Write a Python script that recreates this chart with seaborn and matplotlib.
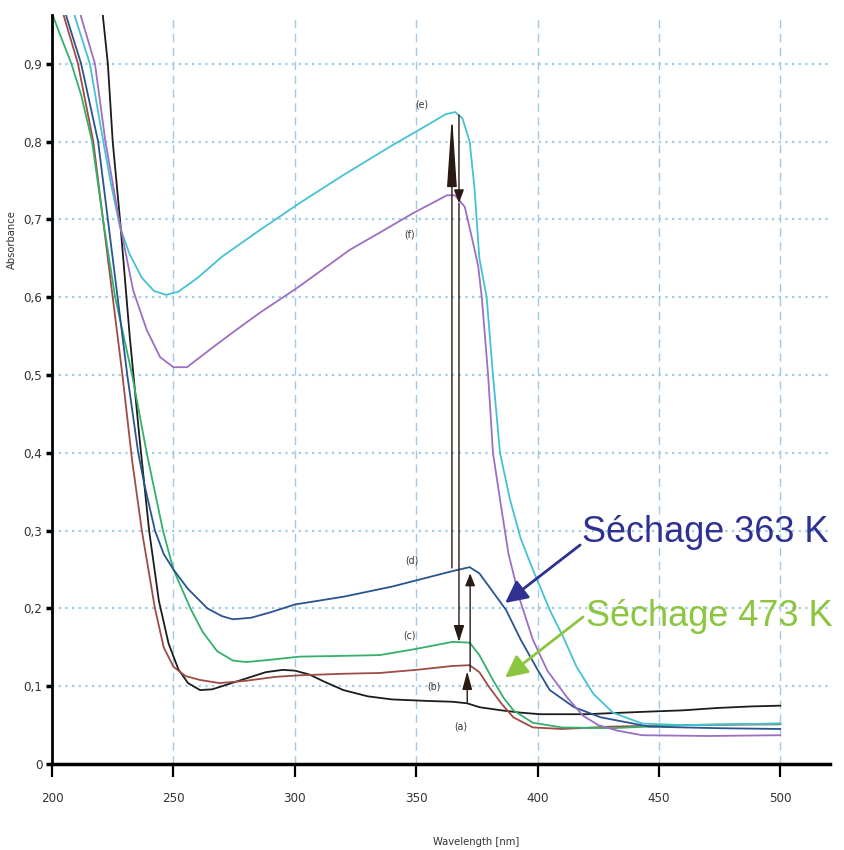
import numpy as np
import pandas as pd
import matplotlib
matplotlib.use("Agg")
import matplotlib.pyplot as plt
import seaborn as sns
from matplotlib.ticker import FuncFormatter

# wavelength (nm) / absorbance
a_x = [218, 221, 223, 225, 228, 232, 236, 240, 244, 248, 252, 256, 261, 266, 272, 280, 288, 295, 300, 306, 312,
       320, 330, 340, 355, 365, 371, 376, 385, 393, 401, 420, 443, 460, 474, 488, 500]
a_y = [1.10, 0.96, 0.90, 0.80, 0.70, 0.55, 0.42, 0.30, 0.21, 0.155, 0.122, 0.104, 0.095, 0.096, 0.102, 0.110, 0.118,
       0.121, 0.120, 0.115, 0.106, 0.095, 0.087, 0.083, 0.081, 0.080, 0.078, 0.073, 0.069, 0.066, 0.064, 0.064,
       0.067, 0.069, 0.072, 0.074, 0.075]

b_x = [202, 205, 210.7, 217, 221, 225, 229, 233, 237, 242.4, 246, 250, 255, 261, 269, 280, 292, 302, 320, 335, 350,
       365, 372, 376, 380, 385, 390, 398, 410, 430, 460, 500]
b_y = [1.0, 0.96, 0.90, 0.80, 0.70, 0.60, 0.50, 0.39, 0.30, 0.20, 0.15, 0.125, 0.113, 0.108, 0.104, 0.107, 0.112,
       0.114, 0.116, 0.117, 0.121, 0.126, 0.127, 0.118, 0.099, 0.078, 0.060, 0.047, 0.045, 0.048, 0.050, 0.051]

c_x = [200, 203, 208, 212, 216.5, 221, 226, 233, 239, 245.7, 250, 257, 262, 268, 274.5, 280, 290, 302, 320, 335, 350,
       365, 372, 376, 381.6, 386, 390, 398, 410, 430, 460, 500]
c_y = [0.965, 0.94, 0.90, 0.86, 0.80, 0.70, 0.60, 0.50, 0.40, 0.30, 0.25, 0.20, 0.17, 0.145, 0.133, 0.131, 0.134,
       0.138, 0.139, 0.140, 0.148, 0.157, 0.156, 0.140, 0.108, 0.085, 0.069, 0.053, 0.047, 0.046, 0.050, 0.052]

d_x = [203, 206, 212, 219, 223, 227, 231, 235.5, 238, 242.4, 246, 250, 256, 264, 270, 274.5, 282, 290, 300, 320, 340,
       355, 365, 372, 376, 380, 387, 393, 400, 405, 415, 426, 446, 475, 500]
d_y = [1.0, 0.96, 0.90, 0.80, 0.70, 0.60, 0.50, 0.40, 0.36, 0.30, 0.27, 0.25, 0.225, 0.20, 0.19, 0.186, 0.188,
       0.195, 0.205, 0.215, 0.228, 0.240, 0.248, 0.253, 0.245, 0.228, 0.198, 0.160, 0.121, 0.095, 0.073, 0.060,
       0.048, 0.046, 0.045]

e_x = [206, 209.5, 215.6, 220, 224, 228, 232, 237, 242, 247, 252, 260, 270, 285, 302, 320, 340, 355, 362, 366, 369,
       372, 374, 376, 379, 381.6, 384.5, 388.6, 393, 398, 405, 411, 416, 423, 431, 443, 460, 480, 500]
e_y = [1.02, 0.96, 0.90, 0.82, 0.75, 0.69, 0.655, 0.625, 0.608, 0.603, 0.607, 0.625, 0.652, 0.685, 0.721, 0.757,
       0.795, 0.822, 0.835, 0.838, 0.830, 0.800, 0.740, 0.650, 0.600, 0.500, 0.400, 0.340, 0.290, 0.250, 0.198,
       0.160, 0.125, 0.090, 0.066, 0.052, 0.050, 0.051, 0.052]

f_x = [209, 212, 217.7, 222, 227.6, 233.4, 239, 244.5, 250, 255.6, 266, 275, 285.6, 301, 322.7, 335, 348.7, 362.7,
       366, 370, 373.4, 375.5, 377, 379.6, 381.6, 384.5, 388, 392.7, 398, 404, 412, 418.7, 425, 432.7, 443, 470, 500]
f_y = [1.02, 0.96, 0.90, 0.80, 0.70, 0.609, 0.558, 0.523, 0.510, 0.510, 0.535, 0.556, 0.580, 0.612, 0.661, 0.683,
       0.708, 0.731, 0.731, 0.716, 0.670, 0.640, 0.600, 0.500, 0.400, 0.340, 0.270, 0.211, 0.160, 0.120, 0.086,
       0.062, 0.050, 0.043, 0.037, 0.036, 0.037]

curve_names = ["(a)", "(b)", "(c)", "(d)", "(e)", "(f)"]
curve_colors = ["#1c1c1c", "#a04b45", "#33b06c", "#2a5490", "#45c2d2", "#9c6fc2"]
label_x = [368.5, 357.3, 347.4, 348.3, 352.4, 347.4]
label_y = [0.048, 0.100, 0.165, 0.262, 0.848, 0.681]

xs = [a_x, b_x, c_x, d_x, e_x, f_x]
ys = [a_y, b_y, c_y, d_y, e_y, f_y]
frames = []
for name, x, y in zip(curve_names, xs, ys):
    frames.append(pd.DataFrame({"wl": x, "abs": y, "curve": name}))
df = pd.concat(frames, ignore_index=True)

sns.set_theme(style="white")
plt.rcParams["font.family"] = ["Liberation Sans", "DejaVu Sans"]
small = dict(family="DejaVu Sans", stretch="condensed")

fig = plt.figure(figsize=(8.45, 8.5), dpi=100)
ax = fig.add_axes([52 / 845, 86 / 850, 778 / 845, 749 / 850])

# grid: dashed verticals, dotted horizontals
for gx in [250, 300, 350, 400, 450, 500]:
    ax.axvline(gx, color="#9fcbe4", lw=1, ls=(0, (6, 4)), zorder=0)
for gy in np.arange(1, 10) / 10:
    ax.axhline(gy, color="#9fcbe4", lw=1.6, ls=(0, (1, 2)), zorder=0)

sns.lineplot(data=df, x="wl", y="abs", hue="curve", palette=dict(zip(curve_names, curve_colors)),
             sort=False, estimator=None, legend=False, lw=1.3, ax=ax)

ax.set_xlim(200, 520.4)
ax.set_ylim(0, 0.9627)
ax.set_xticks([200, 250, 300, 350, 400, 450, 500])
ax.set_yticks(np.arange(0, 10) / 10)
ax.yaxis.set_major_formatter(FuncFormatter(lambda v, p: "0" if v == 0 else f"{v:.1f}".replace(".", ",")))
ax.tick_params(axis="x", direction="out", length=9, width=1.6, color="black", pad=11, labelsize=9.5, labelcolor="#333333")
ax.tick_params(axis="y", direction="out", length=4, width=2.5, color="black", pad=3, labelsize=9.5, labelcolor="#333333")
for t in ax.get_xticklabels() + ax.get_yticklabels():
    t.set_fontstretch("condensed")
    t.set_family("DejaVu Sans")
ax.tick_params(bottom=True, left=True)
sns.despine(ax=ax)
ax.spines["left"].set_linewidth(2)
ax.spines["bottom"].set_linewidth(2.5)
ax.spines["left"].set_color("black")
ax.spines["bottom"].set_color("black")

ax.set_xlabel("Wavelength [nm]", fontsize=8, color="#333333", **small)
ax.set_ylabel("Absorbance", fontsize=8, color="#333333", **small)
ax.xaxis.set_label_coords(0.545, -0.097)
ax.yaxis.set_label_coords(-0.045, 0.70)

for name, lx, ly in zip(curve_names, label_x, label_y):
    ax.text(lx, ly, name, fontsize=7.5, color="#333333", ha="center", va="center", **small)

# measurement arrows between the peaks
def arrow(x0, y0, x1, y1, hl, hw):
    ax.annotate("", xy=(x1, y1), xytext=(x0, y0),
                arrowprops=dict(arrowstyle=f"-|>,head_length={hl},head_width={hw}", color="#2a1a14",
                                lw=1, mutation_scale=10, shrinkA=0, shrinkB=0))

arrow(364.7, 0.252, 364.7, 0.834, 4.4, 0.3)
arrow(367.6, 0.834, 367.6, 0.721, 0.8, 0.3)
arrow(367.6, 0.721, 367.6, 0.157, 1.0, 0.32)
arrow(371.0, 0.078, 371.0, 0.119, 1.1, 0.3)
arrow(372.2, 0.119, 372.2, 0.245, 0.75, 0.3)

# drying annotations
ax.annotate("", xy=(386.6, 0.207), xytext=(417.5, 0.2815),
            arrowprops=dict(arrowstyle="-|>,head_length=0.9,head_width=0.45", color="#2e3192", lw=2,
                            mutation_scale=15, shrinkA=0, shrinkB=0))
ax.annotate("", xy=(386.6, 0.111), xytext=(418.7, 0.189),
            arrowprops=dict(arrowstyle="-|>,head_length=0.9,head_width=0.45", color="#8cc63e", lw=2,
                            mutation_scale=15, shrinkA=0, shrinkB=0))
ax.text(418.3, 0.297, "Séchage 363 K", fontsize=26, color="#2e3192", ha="left", va="center")
ax.text(419.9, 0.189, "Séchage 473 K", fontsize=26, color="#8cc63e", ha="left", va="center")

plt.savefig("out.png", dpi=100)
